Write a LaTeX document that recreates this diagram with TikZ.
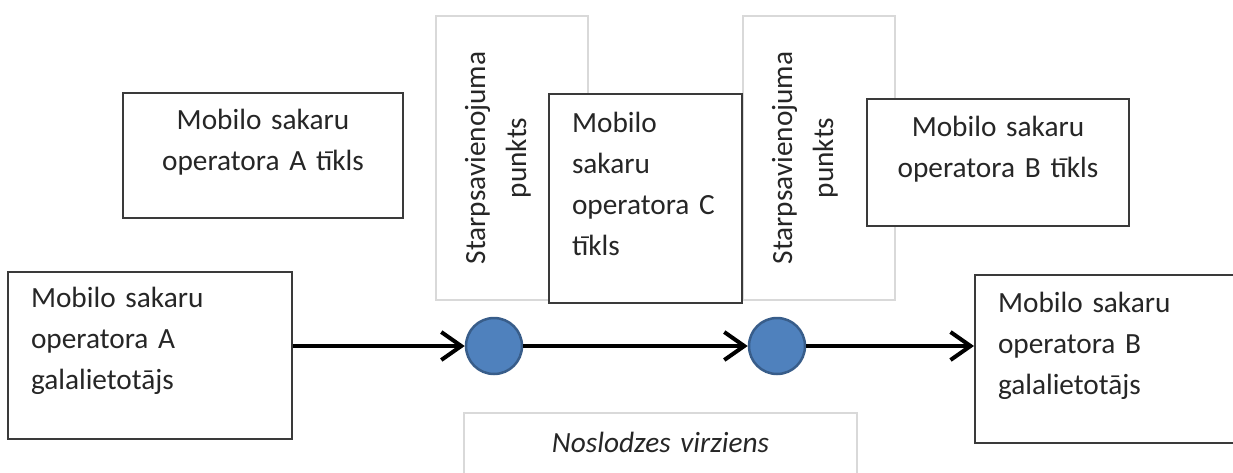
\documentclass[tikz,border=0pt]{standalone}
\usepackage{fontspec}
\setmainfont{Carlito}
\usepackage{tikz}
\usetikzlibrary{arrows.meta}
\definecolor{ink}{HTML}{262626}
\definecolor{edge}{HTML}{3A3A3A}
\definecolor{pale}{HTML}{D9D9D9}
\definecolor{dotF}{HTML}{4F81BD}
\definecolor{dotD}{HTML}{385D8A}
\tikzset{
  box/.style    ={draw=edge, fill=white, line width=2pt, inner ysep=0pt, text=ink,
                  font=\fontsize{29.3}{41}\selectfont},
  netbox/.style ={box, align=center, inner xsep=10pt},
  userbox/.style={box, align=left, inner xsep=23pt},
  ptbox/.style  ={box, draw=pale, line width=1.5pt, align=center, inner xsep=10pt, rotate=90},
  dirbox/.style ={box, draw=pale, line width=1.5pt, align=center, inner xsep=10pt,
                  font=\fontsize{29.3}{41}\selectfont\itshape},
  dot/.style    ={circle, draw=dotD, fill=dotF, line width=2.5pt, minimum size=56pt, inner sep=0pt},
  flow/.style   ={-{Straight Barb[length=20pt,width=28pt]}, line width=4pt, draw=black},
}
\begin{document}
\begin{tikzpicture}[x=1pt,y=-1pt]
  \useasboundingbox (0,0) rectangle (1233,472);
  \node[netbox, text width=260pt, text height=36pt, text depth=89pt](nA) at (263,155.5){Mobilo sakaru\\operatora A tīkls};
  \node[ptbox, text width=264pt, text height=49pt, text depth=103pt](sp1) at (512,158){Starpsavienojuma\\punkts};
  \node[ptbox, text width=264pt, text height=49pt, text depth=103pt](sp2) at (819,158){Starpsavienojuma\\punkts};
  \node[userbox, text width=147pt, text height=38pt, text depth=171pt](nC) at (645.5,198.5){Mobilo\\sakaru\\operatora C\\tīkls};
  \node[netbox, text width=242pt, text height=37pt, text depth=90pt](nB) at (998,162.5){Mobilo sakaru\\operatora B tīkls};
  \node[userbox, text width=238pt, text height=35pt, text depth=132pt](uA) at (150,355.5){Mobilo sakaru\\operatora A\\galalietotājs};
  \node[userbox, text width=225pt, text height=37pt, text depth=131pt](uB) at (1110.5,359){Mobilo sakaru\\operatora B\\galalietotājs};
  \node[dirbox, text width=373pt, text height=39pt, text depth=38pt](dir) at (660.5,451.5){Noslodzes virziens};
  \node[dot](c1) at (494,346){};
  \node[dot](c2) at (777,346){};
  \draw[flow] (uA.east |- c1) -- (c1);
  \draw[flow] (c1) -- (c2);
  \draw[flow] (c2) -- (c2 -| uB.west);
\end{tikzpicture}
\end{document}
